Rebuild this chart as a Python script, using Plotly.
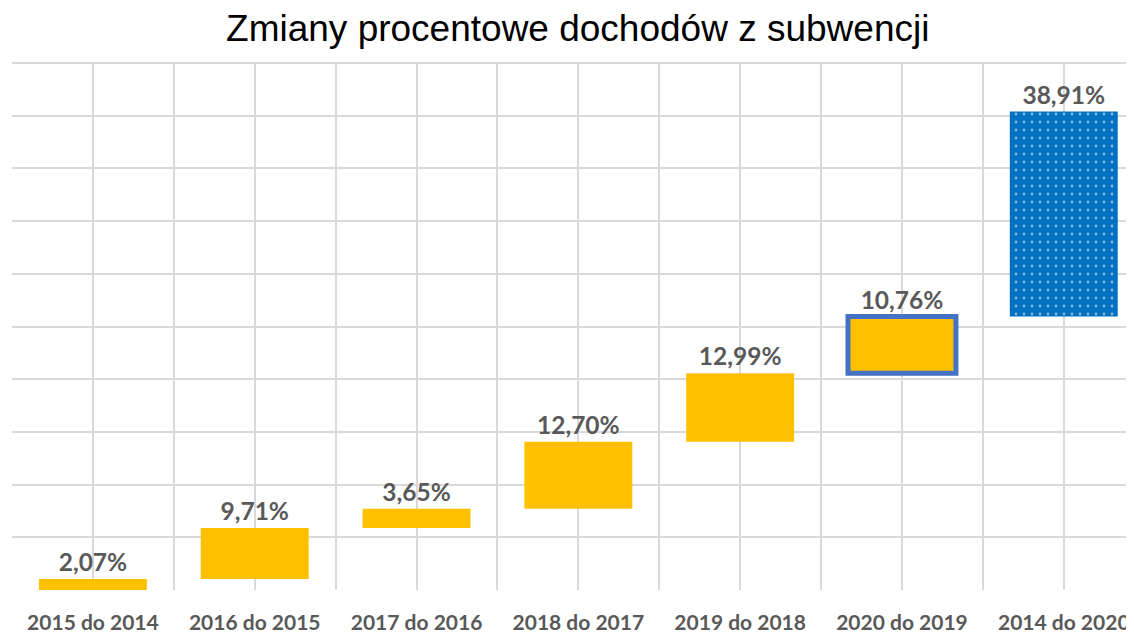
import plotly.graph_objects as go

categories = ["2015 do 2014", "2016 do 2015", "2017 do 2016", "2018 do 2017",
              "2019 do 2018", "2020 do 2019", "2014 do 2020"]
values = [2.07, 9.71, 3.65, 12.70, 12.99, 10.76, 38.91]
title_text = "Zmiany procentowe dochodów z subwencji"

# floating bases: cumulative sum of previous changes
bases = []
acc = 0.0
for v in values:
    bases.append(acc)
    acc += v

labels = [f"{v:.2f}".replace(".", ",") + "%" for v in values]
xpos = list(range(len(categories)))

yellow = "#FFC000"
blue = "#0070C0"
colors = [yellow] * 6 + [blue]
line_colors = ["rgba(0,0,0,0)"] * 5 + ["#4472C4", blue]
line_widths = [0, 0, 0, 0, 0, 5, 0]
shapes = [""] * 6 + ["."]

fig = go.Figure()
fig.add_trace(go.Bar(
    x=xpos, y=values, base=bases,
    width=0.667,
    marker=dict(
        color=colors,
        line=dict(color=line_colors, width=line_widths),
        pattern=dict(shape=shapes, fgcolor="white",
                     size=8, solidity=0.1, fillmode="overlay"),
    ),
    text=labels, textposition="outside", cliponaxis=False,
    textfont=dict(family="Lato", size=24.5, color="#595959", weight="bold"),
    hoverinfo="skip",
))

fig.update_layout(
    width=1126, height=627,
    margin=dict(l=4, r=0, t=54, b=45),
    paper_bgcolor="white", plot_bgcolor="white",
    showlegend=False,
    title=dict(text=title_text, x=0.506, xanchor="center", y=0.968, yanchor="middle",
               font=dict(family="Liberation Sans", size=37, color="black")),
    xaxis=dict(
        range=[-0.5, 6.434], tickmode="array", tickvals=xpos, ticktext=categories,
        showgrid=True, gridcolor="#D9D9D9", gridwidth=1.5,
        minor=dict(tickmode="linear", tick0=-0.5, dtick=1, showgrid=True,
                   gridcolor="#D9D9D9", gridwidth=1.5),
        ticks="outside", ticklen=14, tickcolor="rgba(0,0,0,0)",
        tickfont=dict(family="Lato", size=21, color="#595959", weight="bold"),
        zeroline=False, showline=False,
    ),
    yaxis=dict(
        range=[0, 100.2], tickmode="array", tickvals=[10, 20, 30, 40, 50, 60, 70, 80, 90, 100],
        showticklabels=False, showgrid=True, gridcolor="#D9D9D9", gridwidth=1.5,
        zeroline=False, showline=False,
    ),
)

fig.write_html("out.html")
